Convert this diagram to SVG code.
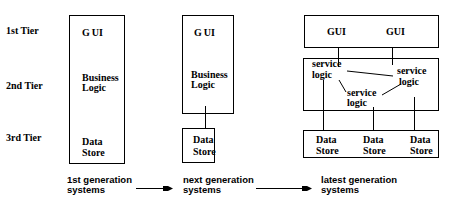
<svg xmlns="http://www.w3.org/2000/svg" width="465" height="205" viewBox="0 0 465 205">
<style>
text{font-family:"Liberation Serif","Times New Roman",serif;font-weight:bold;font-size:10px;fill:#000}
.gen{font-family:"Liberation Sans",Arial,sans-serif;font-size:9.5px}
.box{fill:none;stroke:#000;stroke-width:1}
.ln{stroke:#000;stroke-width:1;fill:none}
</style>
<rect width="465" height="205" fill="#fff"/>
<g id="tiers">
<text x="6" y="34">1st Tier</text>
<text x="6" y="89">2nd Tier</text>
<text x="6" y="141">3rd Tier</text>
</g>
<g id="gen1">
<rect class="box" x="69.5" y="15.5" width="55" height="148"/>
<text x="82" y="36">G<tspan dx="2">UI</tspan></text>
<text x="82" y="81">Business</text>
<text x="82" y="91">Logic</text>
<text x="82" y="145">Data</text>
<text x="82" y="156">Store</text>
</g>
<g id="gen2-app">
<rect class="box" x="182.5" y="15.5" width="51" height="98"/>
<text x="194" y="36">G<tspan dx="2">UI</tspan></text>
<text x="191" y="78">Business</text>
<text x="191" y="88">Logic</text>
</g>
<g id="gen2-data">
<rect class="box" x="182.5" y="128.5" width="32" height="34"/>
<text x="193" y="143">Data</text>
<text x="193" y="155">Store</text>
</g>
<g id="gen3-gui">
<rect class="box" x="304.5" y="15.5" width="134" height="32"/>
<text x="327" y="35">GUI</text>
<text x="386" y="35">GUI</text>
</g>
<g id="gen3-logic">
<rect class="box" x="303.5" y="58.5" width="135" height="52"/>
<text x="312" y="67">service</text>
<text x="312" y="78">logic</text>
<text x="397" y="74">service</text>
<text x="399" y="85">logic</text>
<text x="347" y="96">service</text>
<text x="347" y="106">logic</text>
</g>
<g id="gen3-data">
<rect class="box" x="303.5" y="130.5" width="135" height="27"/>
<text x="316" y="143">Data</text>
<text x="316" y="154">Store</text>
<text x="363" y="143">Data</text>
<text x="363" y="154">Store</text>
<text x="410" y="143">Data</text>
<text x="410" y="154">Store</text>
</g>
<g id="labels">
<text class="gen" x="67" y="183">1st generation</text>
<text class="gen" x="67" y="193">systems</text>
<text class="gen" x="183" y="183">next generation</text>
<text class="gen" x="183" y="193">systems</text>
<text class="gen" x="321" y="183">latest generation</text>
<text class="gen" x="321" y="193">systems</text>
</g>
<g id="connectors">
<line class="ln" x1="205.5" y1="106" x2="205.5" y2="128"/>
<line class="ln" x1="338.5" y1="48" x2="338.5" y2="67"/>
<line class="ln" x1="392.5" y1="48" x2="392.5" y2="65"/>
<line class="ln" x1="347" y1="71" x2="393" y2="76"/>
<line class="ln" x1="339" y1="80" x2="346" y2="92"/>
<line class="ln" x1="382" y1="95" x2="401" y2="84"/>
<line class="ln" x1="323.5" y1="80" x2="323.5" y2="130"/>
<line class="ln" x1="373.5" y1="107" x2="373.5" y2="130"/>
<line class="ln" x1="414.5" y1="97" x2="414.5" y2="130"/>
<line class="ln" x1="136" y1="188.5" x2="164" y2="188.5"/>
<polygon points="163,186 168,186 173,188.5 168,191 163,191"/>
<line class="ln" x1="256" y1="188.5" x2="303" y2="188.5"/>
<polygon points="302,186 307,186 312,188.5 307,191 302,191"/>
</g>
</svg>
